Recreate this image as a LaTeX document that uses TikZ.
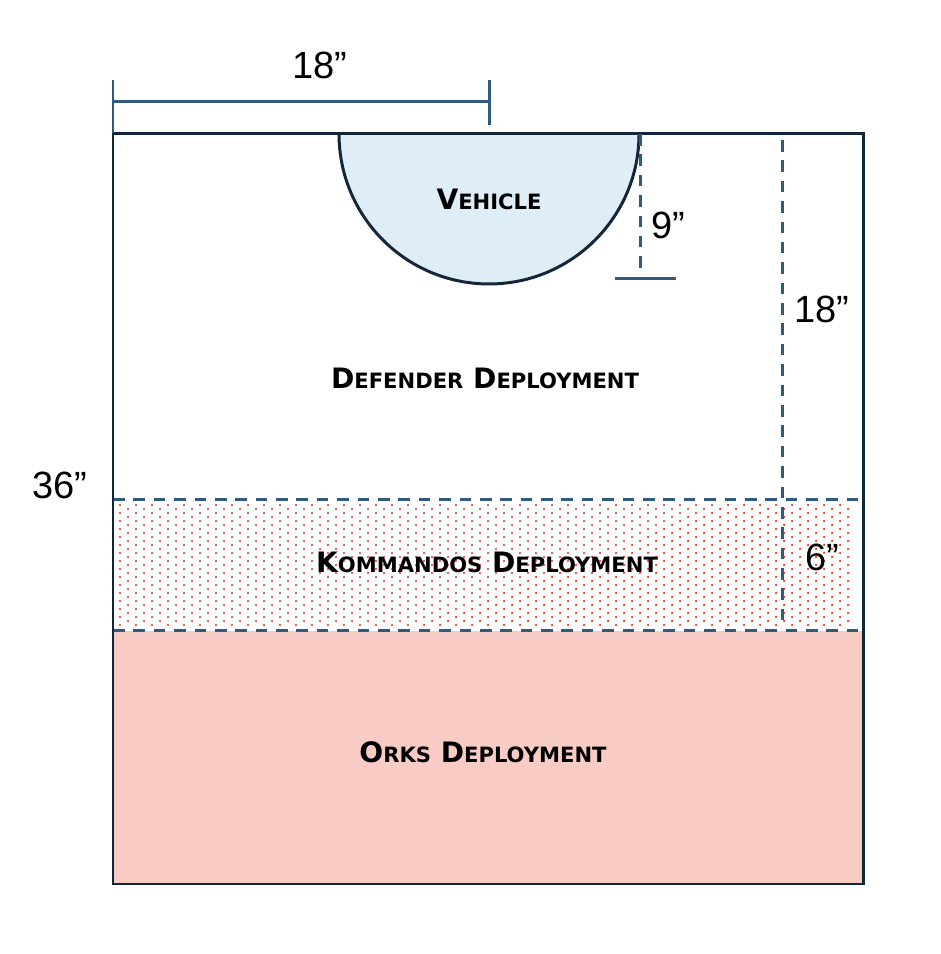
\documentclass[tikz,border=0pt]{standalone}
\usepackage{fontspec}
\setmainfont{Liberation Sans}
\newfontfamily\zonefont{DejaVu Sans}
\usepackage{tikz}
\usetikzlibrary{positioning}
\usepackage{xcolor}
\definecolor{boxline}{HTML}{14263A}
\definecolor{dimline}{HTML}{2F5B7C}
\definecolor{vehiclefill}{HTML}{DFEDF7}
\definecolor{orkfill}{HTML}{F8CBC5}
\definecolor{dotred}{HTML}{EA2A22}
\newcommand{\zonename}[2]{{\zonefont\bfseries\fontsize{8.0}{9}\selectfont #1\fontsize{6.0}{9}\selectfont #2}}
\tikzset{
  dimension/.style={dimline,line width=0.85pt},
  dimdash/.style={dimline,line width=0.85pt,dash pattern=on 3.3pt off 2.5pt},
  measure/.style={font=\fontsize{10.8}{12}\selectfont,inner sep=1pt},
  zone/.style={inner sep=0pt}
}

\begin{document}
\begin{tikzpicture}
      \useasboundingbox (0,0) rectangle (9.40,9.54);
      % board corners
      \coordinate (sw) at (1.13,0.70);
      \coordinate (ne) at (8.63,8.20);
      \coordinate (nw) at (1.13,8.20);
      % zones
      \fill[orkfill](1.13,0.70) rectangle (8.63,3.23);
      \foreach \r [evaluate=\r as \off using {mod(\r,2)*0.08}] in {0,...,30}{
        \foreach \x in {1.20,1.36,...,8.50}{
          \fill[dotred](\x+\off,4.49-\r*0.04) circle[radius=0.012];
        }
      }
      \draw[boxline,line width=0.85pt,fill=vehiclefill](3.39,8.20)arc(180:360:1.50);
      \draw[dimdash](1.13,4.54)--(8.63,4.54);
      \draw[dimdash](1.13,3.23)--(8.63,3.23);
      \draw[boxline,line width=0.85pt](sw) rectangle (ne);
      % 18 inch top measure
      \coordinate (topl) at (1.13,8.52);
      \coordinate (topr) at (4.89,8.52);
      \draw[dimension](topl)--(topr);
      \draw[dimension](1.13,8.74)--(1.13,8.21);
      \draw[dimension](4.89,8.74)--(4.89,8.29);
      \node[measure] (topdim) at (3.20,8.89) {18”};
      % 9 inch vehicle measure
      \coordinate (vtop) at (6.40,8.20);
      \coordinate (vbot) at (6.40,6.75);
      \draw[dimdash](vtop)--(vbot);
      \draw[dimension](6.15,6.75)--(6.76,6.75);
      \node[measure,anchor=west] (vehdim) at (6.47,7.29) {9”};
      % 18 and 6 inch side measure
      \coordinate (stop) at (7.82,8.14);
      \coordinate (sbot) at (7.82,3.25);
      \draw[dimdash](stop)--(sbot);
      \node[measure] (defdim) at (8.22,6.45) {18”};
      \node[measure] (komdim) at (8.22,3.97) {6”};
      \node[measure] (boarddim) at (0.60,4.69) {36”};
      % zone names
      \node[zone] (vehicle) at (4.89,7.55) {\zonename{V}{EHICLE}};
      \node[zone] (defender) at (4.85,5.76) {\zonename{D}{EFENDER} \zonename{D}{EPLOYMENT}};
      \node[zone] (kommandos) at (4.87,3.92) {\zonename{K}{OMMANDOS} \zonename{D}{EPLOYMENT}};
      \node[zone] (orks) at (4.83,2.02) {\zonename{O}{RKS} \zonename{D}{EPLOYMENT}};
\end{tikzpicture}
\end{document}
